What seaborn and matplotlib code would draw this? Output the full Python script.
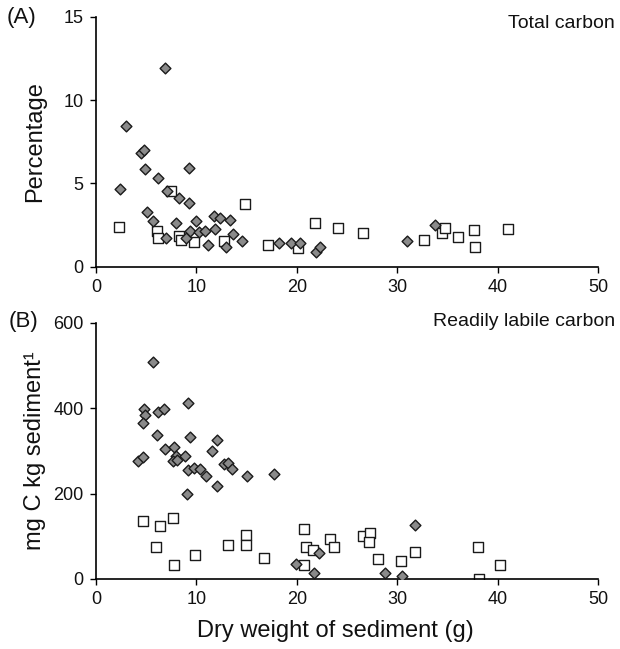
import matplotlib
matplotlib.use("Agg")
import matplotlib.pyplot as plt
import seaborn as sns
import pandas as pd

# (A) total carbon, percentage
tc_dia_x = [6.9, 3.0, 4.45, 4.8, 4.9, 9.3, 6.2, 2.35, 7.1, 8.3, 9.3, 5.1, 5.65, 7.95,
            9.95, 11.8, 12.35, 13.3, 9.35, 10.3, 10.9, 11.9, 13.65, 6.95, 9.0, 11.2,
            13.0, 14.5, 18.2, 19.4, 20.3, 21.9, 22.3, 31.0, 33.8]
tc_dia_y = [11.95, 8.45, 6.85, 7.0, 5.85, 5.9, 5.3, 4.65, 4.55, 4.1, 3.85, 3.3, 2.75, 2.6,
            2.75, 3.05, 2.95, 2.8, 2.15, 2.1, 2.15, 2.25, 1.95, 1.7, 1.75, 1.3,
            1.2, 1.55, 1.45, 1.45, 1.45, 0.9, 1.2, 1.55, 2.5]
tc_sq_x = [2.3, 7.45, 14.8, 6.05, 6.2, 8.3, 8.45, 9.75, 12.8, 17.1, 20.1, 21.8, 24.1,
           26.6, 32.7, 34.5, 34.8, 36.1, 37.7, 37.8, 41.0]
tc_sq_y = [2.4, 4.55, 3.75, 2.15, 1.7, 1.85, 1.6, 1.5, 1.55, 1.3, 1.1, 2.6, 2.35,
           2.05, 1.6, 2.05, 2.3, 1.8, 2.2, 1.2, 2.25]

# (B) readily labile carbon, mg C / kg
lc_dia_x = [5.65, 4.8, 4.9, 4.7, 6.2, 6.75, 9.2, 6.05, 9.35, 12.05, 6.9, 7.75, 11.6,
            7.95, 8.9, 4.2, 4.65, 7.65, 8.1, 12.8, 13.1, 13.5, 9.2, 9.8, 10.4, 10.95,
            15.0, 12.05, 9.1, 17.7, 19.9, 21.7, 22.2, 28.8, 30.5, 31.8]
lc_dia_y = [507, 399, 384, 364, 390, 398, 413, 337, 332, 326, 305, 310, 299,
            289, 287, 276, 285, 277, 279, 268, 272, 258, 254, 260, 258, 241,
            241, 217, 198, 246, 35, 15, 60, 15, 8, 126]
lc_sq_x = [4.65, 6.35, 7.7, 5.95, 7.8, 9.85, 13.1, 14.9, 14.9, 16.7, 20.7, 20.9, 21.6,
           20.7, 23.3, 23.7, 26.6, 27.3, 27.2, 28.1, 30.4, 31.8, 38.0, 38.1, 40.2]
lc_sq_y = [136, 124, 142, 74, 33, 57, 80, 103, 80, 50, 117, 76, 68,
           33, 94, 76, 101, 107, 87, 46, 43, 62, 76, 0, 32]

sns.set_style("ticks")
plt.rcParams["font.family"] = ["Liberation Sans", "DejaVu Sans"]

fig = plt.figure(figsize=(6.2, 6.49), dpi=100)
ax1 = fig.add_axes([0.1548, 0.589, 0.8097, 0.3852])
ax2 = fig.add_axes([0.1548, 0.1079, 0.8097, 0.3949])

dia_kw = dict(marker="D", s=30, color="#8a8a8a", edgecolor="#1a1a1a", linewidth=1.0, zorder=3)
sq_kw = dict(marker="s", s=55, color="white", edgecolor="#1a1a1a", linewidth=1.0, zorder=2)

sns.scatterplot(x=tc_sq_x, y=tc_sq_y, ax=ax1, **sq_kw)
sns.scatterplot(x=tc_dia_x, y=tc_dia_y, ax=ax1, **dia_kw)
sns.scatterplot(x=lc_sq_x, y=lc_sq_y, ax=ax2, **sq_kw)
sns.scatterplot(x=lc_dia_x, y=lc_dia_y, ax=ax2, **dia_kw)

ax1.set_ylim(0, 15); ax1.set_yticks([0, 5, 10, 15])
ax2.set_ylim(0, 600); ax2.set_yticks([0, 200, 400, 600])
for ax in (ax1, ax2):
    ax.set_xlim(0, 50)
    ax.set_xticks([0, 10, 20, 30, 40, 50])
    ax.tick_params(labelsize=13, length=4, width=1, color="black", labelcolor="#111111", pad=5)
    for sp in ("left", "bottom"):
        ax.spines[sp].set_linewidth(1.2)
        ax.spines[sp].set_color("black")
    ax.set_xlabel("")
sns.despine(fig=fig)

ax1.set_ylabel("Percentage", fontsize=17, color="#111111")
ax1.yaxis.set_label_coords(-0.1, 0.5)
ax2.set_ylabel("mg C kg sediment\u00b9", fontsize=17, color="#111111")
ax2.yaxis.set_label_coords(-0.1, 0.5)
ax2.set_xlabel("Dry weight of sediment (g)", fontsize=17, color="#111111")
ax2.xaxis.set_label_coords(0.476, -0.16)

fig.text(7 / 620, 1 - 18 / 649, "(A)", fontsize=16, ha="left", va="center", color="#111111")
fig.text(9 / 620, 1 - 322 / 649, "(B)", fontsize=16, ha="left", va="center", color="#111111")
fig.text(615 / 620, 1 - 24 / 649, "Total carbon", fontsize=14, ha="right", va="center", color="#111111")
fig.text(615 / 620, 1 - 321 / 649, "Readily labile carbon", fontsize=14, ha="right", va="center", color="#111111")

fig.savefig("out.png", dpi=100)
